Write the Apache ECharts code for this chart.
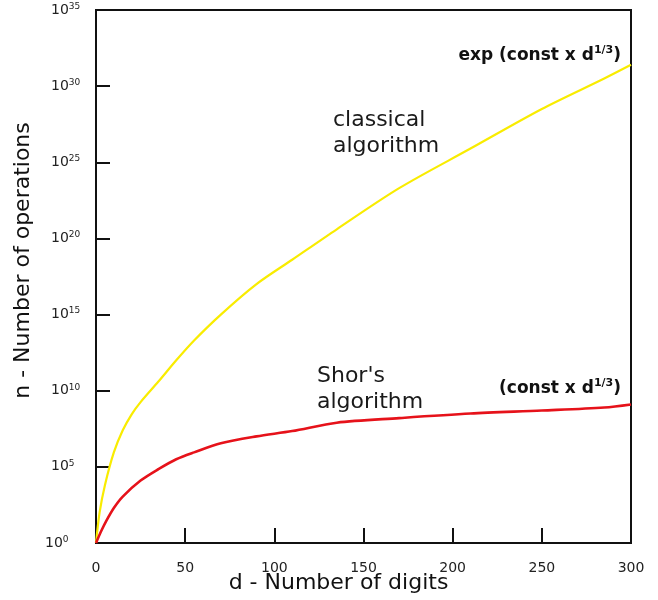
<!DOCTYPE html>
<html>
<head>
<meta charset="utf-8">
<script src="https://cdn.jsdelivr.net/npm/echarts@6/dist/echarts.min.js"></script>
<style>
html,body{margin:0;padding:0;background:#fff;}
#chart{width:658px;height:600px;}
</style>
</head>
<body>
<div id="chart"></div>
<script>
// digits d (x) and log10 of number of operations (y)
const classicalDigits = [0, 2, 5, 10, 15, 20, 25, 35, 45, 55, 70, 90, 110, 135, 170, 210, 250, 285, 300];
const classicalExp    = [0, 2.0, 3.8, 5.95, 7.4, 8.45, 9.25, 10.6, 12.0, 13.3, 15.0, 17.0, 18.6, 20.6, 23.3, 25.9, 28.5, 30.5, 31.4];
const shorDigits = [0, 3, 6, 10, 15, 25, 35, 45, 55, 70, 90, 110, 135, 170, 210, 250, 285, 300];
const shorExp    = [0, 0.8, 1.5, 2.3, 3.05, 4.1, 4.85, 5.5, 5.95, 6.55, 7.0, 7.35, 7.9, 8.2, 8.5, 8.7, 8.9, 9.1];
const xTicks = [0, 50, 100, 150, 200, 250, 300];
const yTickExps = [0, 5, 10, 15, 20, 25, 30, 35];

const FONT = 'DejaVu Sans';
const toData = (xs, es) => xs.map((x, i) => [x, Math.pow(10, es[i])]);

const chart = echarts.init(document.getElementById('chart'), null, {renderer: 'canvas'});
chart.setOption({
  backgroundColor: '#fff',
  animation: false,
  grid: {left: 96, right: 27, top: 10, bottom: 57, containLabel: false, outerBoundsMode: 'none',
         show: true, borderColor: '#111', borderWidth: 2, backgroundColor: 'transparent'},
  xAxis: {
    type: 'value', min: xTicks[0], max: xTicks[xTicks.length - 1], interval: 50,
    axisLine: {lineStyle: {color: '#111', width: 2}},
    axisTick: {inside: true, length: 15, lineStyle: {color: '#111', width: 2}},
    splitLine: {show: false},
    axisLabel: {fontSize: 14, color: '#222', fontFamily: FONT, margin: 18},
    name: 'd - Number of digits', nameLocation: 'middle', nameGap: 29, nameMoveOverlap: false,
    nameTextStyle: {fontSize: 22, color: '#111', fontFamily: FONT, padding: [0, 50, 0, 0]}
  },
  yAxis: {
    type: 'log', logBase: 10, min: Math.pow(10, yTickExps[0]), max: Math.pow(10, yTickExps[yTickExps.length - 1]), interval: 5,
    axisLine: {lineStyle: {color: '#111', width: 2}},
    axisTick: {inside: true, length: 14, lineStyle: {color: '#111', width: 2}},
    splitLine: {show: false},
    minorTick: {show: false},
    axisLabel: {
      align: 'left', margin: 51,
      formatter: v => {
        const e = Math.round(Math.log10(v));
        return (e === 0 ? '{b0|10}' : '{b|10}') + '{s|' + e + '}';
      },
      rich: {
        b: {fontSize: 14, color: '#222', fontFamily: FONT, lineHeight: 16, padding: [0, 0, 0, 6]},
        b0: {fontSize: 14, color: '#222', fontFamily: FONT, lineHeight: 16},
        s: {fontSize: 9, color: '#222', fontFamily: FONT, lineHeight: 10, verticalAlign: 'top'}
      }
    },
    name: 'n - Number of operations', nameLocation: 'middle', nameGap: 62, nameMoveOverlap: false,
    nameTextStyle: {fontSize: 22, color: '#111', fontFamily: FONT, padding: [0, 0, 0, 32]}
  },
  series: [
    {type: 'line', name: 'classical', data: toData(classicalDigits, classicalExp), smooth: 0.3,
     showSymbol: false, lineStyle: {color: '#f9ec00', width: 2.2}, z: 3},
    {type: 'line', name: 'shor', data: toData(shorDigits, shorExp), smooth: 0.3,
     showSymbol: false, lineStyle: {color: '#e6121a', width: 2.6}, z: 4}
  ],
  graphic: [
    {type: 'text', x: 333, y: 107, style: {text: 'classical\nalgorithm', fontSize: 22, lineHeight: 26, fontFamily: FONT, fill: '#1a1a1a'}},
    {type: 'text', x: 317, y: 363, style: {text: "Shor's\nalgorithm", fontSize: 22, lineHeight: 26, fontFamily: FONT, fill: '#1a1a1a'}},
    {type: 'text', x: 621, y: 45, style: {
      text: '{b|exp (const x d}{s|1/3}{b|)}', align: 'right',
      rich: {
        b: {fontSize: 17, fontWeight: 'bold', fontFamily: FONT, fill: '#111', lineHeight: 21},
        s: {fontSize: 11, fontWeight: 'bold', fontFamily: FONT, fill: '#111', lineHeight: 12, verticalAlign: 'top'}
      }}},
    {type: 'text', x: 621, y: 378, style: {
      text: '{b|(const x d}{s|1/3}{b|)}', align: 'right',
      rich: {
        b: {fontSize: 17, fontWeight: 'bold', fontFamily: FONT, fill: '#111', lineHeight: 21},
        s: {fontSize: 11, fontWeight: 'bold', fontFamily: FONT, fill: '#111', lineHeight: 12, verticalAlign: 'top'}
      }}}
  ]
});
</script>
</body>
</html>
